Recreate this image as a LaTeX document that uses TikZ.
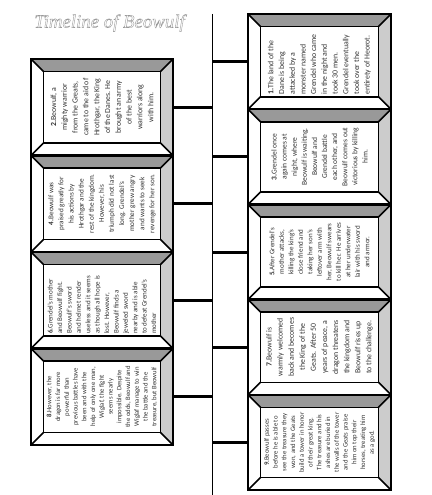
\documentclass[tikz,border=0pt]{standalone}
\usepackage{fontspec}
\setmainfont{Carlito}
\newfontfamily\titlefont{Liberation Serif}
\definecolor{bevdark}{HTML}{999999}
\definecolor{bevlight}{HTML}{CCCCCC}
\def\bev{12.5pt}
\newcommand\drawbevel[1]{%
  \fill[bevdark] (#1.north west) -- (#1.north east) -- ([shift={(-\bev,-\bev)}]#1.north east) -- ([shift={(\bev,-\bev)}]#1.north west) -- cycle;
  \fill[bevlight] (#1.north east) -- (#1.south east) -- ([shift={(-\bev,\bev)}]#1.south east) -- ([shift={(-\bev,-\bev)}]#1.north east) -- cycle;
  \draw[bevline] (#1.north west) -- ([shift={(\bev,-\bev)}]#1.north west);
  \draw[bevline] (#1.north east) -- ([shift={(-\bev,-\bev)}]#1.north east);
  \draw[bevline] (#1.south west) -- ([shift={(\bev,\bev)}]#1.south west);
  \draw[bevline] (#1.south east) -- ([shift={(-\bev,\bev)}]#1.south east);
  \draw[innerline] ([shift={(\bev,-\bev)}]#1.north west) rectangle ([shift={(-\bev,\bev)}]#1.south east);
  \draw[outerline] (#1.north west) rectangle (#1.south east);
}
\tikzset{
  boxshape/.style={rectangle, fill=white, draw=none, inner sep=0pt, outer sep=0pt, anchor=north west},
  rbox/.style={boxshape, minimum width=143pt, minimum height=95.2pt},
  lbox/.style={boxshape, minimum width=142pt, minimum height=96.5pt},
  bevline/.style={line width=1.6pt, black},
  innerline/.style={line width=1.6pt, black},
  outerline/.style={line width=2.4pt, black},
  conn/.style={line width=3pt, black},
  timeline/.style={line width=1.5pt, black},
  btext/.style={rotate=90, inner sep=0pt, text=black!80},
  ctext/.style={btext, align=center},
  ltext/.style={btext, align=left, anchor=west},
  titletext/.style={font=\titlefont\itshape\fontsize{18.8}{22}\selectfont},
}
\newcommand\fs[2]{\fontsize{#1}{#2}\selectfont}
\newcommand\outlined[1]{\special{pdf:literal 2 Tr 0.4 w 0.6 G}#1\special{pdf:literal 0 Tr}}
\begin{document}
\begin{tikzpicture}[x=1pt,y=-1pt]
\useasboundingbox (0,0) rectangle (431,495);
% title (outlined look)
\node[titletext, text=white] (title) at (109.5,23) {\outlined{Timeline of Beowulf}};
% timeline
\coordinate (tltop) at (212.5,14);
\coordinate (tlbot) at (212.5,495);
\draw[timeline] (tltop) -- (tlbot);
% right column boxes
\node[rbox] (b1) at (248,14) {};
\node[rbox] (b3) at (248,109.2) {};
\node[rbox] (b5) at (248,204.4) {};
\node[rbox] (b7) at (248,299.6) {};
\node[rbox] (b9) at (248,394.8) {};
% left column boxes
\node[lbox] (b2) at (31,59) {};
\node[lbox] (b4) at (31,155.5) {};
\node[lbox] (b6) at (31,252) {};
\node[lbox] (b8) at (31,348.5) {};
\foreach \b in {b1,b3,b5,b7,b9,b2,b4,b6,b8}{\drawbevel{\b}}
% connectors
\foreach \b in {b1,b3,b5,b7,b9}{\draw[conn] (\b.west) -- (\b.west -| tltop);}
\foreach \b in {b2,b4,b6,b8}{\draw[conn] (\b.east) -- (\b.east -| tltop);}
% texts
\node[ltext, font=\fs{7.8}{10.7}] (t1) at ([yshift=\bev+2pt]b1.south) {\textbf{1.}The land of the\\Dane is being\\attacked by a\\monster named\\Grendel who came\\in the night and\\took 30 men.\\Grendel eventually\\took over the\\entirety of Heorot.};
\node[ctext, font=\fs{7.8}{10.8}] (t2) at (b2.center) {\textbf{2.}Beowulf, a\\mighty warrior\\from the Greats,\\came to the aid of\\Hrothgar, the King\\of the Danes. He\\brought an army\\of the best\\warriors along\\with him.};
\node[ctext, font=\fs{7.5}{10.1}] (t3) at (b3.center) {\textbf{3.}Grendel once\\again comes at\\night, where\\Beowulf is waiting.\\Beowulf and\\Grendel battle\\each other, and\\Beowulf comes out\\victorious by killing\\him.};
\node[ctext, font=\fs{7.2}{10.1}] (t4) at (b4.center) {\textbf{4.}Beowulf was\\praised greatly for\\his actions by\\Hrothgar and the\\rest of the kingdom.\\However, his\\triumph did not last\\long. Grendel's\\mother grew angry\\and wants to seek\\revenge for her son.};
\node[ctext, font=\fs{7.0}{9.5}] (t5) at (b5.center) {\textbf{5.}After Grendel's\\mother attacks,\\killing the king's\\close friend and\\taking her son's\\leftover arm with\\her, Beowulf swears\\to kill her. He arrives\\at her underwater\\lair with his sword\\and armor.};
\node[ltext, font=\fs{7.0}{9.4}] (t6) at ([yshift=\bev+2pt]b6.south) {\textbf{6.}Grendel's mother\\and Beowulf fight.\\Beowulf's sword\\and helmet render\\useless and it seems\\as though all hope is\\lost. However,\\Beowulf finds a\\jeweled sword\\nearby and is able\\to defeat Grendel's\\mother};
\node[ctext, font=\fs{7.8}{11.1}] (t7) at (b7.center) {\textbf{7.}Beowulf is\\warmly welcomed\\back and becomes\\the King of the\\Geats. After 50\\years of peace, a\\dragon threatens\\the kingdom and\\Beowulf rises up\\to the challenge.};
\node[ctext, font=\fs{6.7}{8.75}] (t8) at (b8.center) {\textbf{8.}However, the\\dragon is far more\\powerful than\\previous battles have\\been and with the\\help of only one man,\\Wiglaf, the fight\\seems nearly\\impossible. Despite\\the odds, Beowulf and\\Wiglaf manage to win\\the battle and the\\treasure, but Beowulf};
\node[ctext, font=\fs{6.7}{8.75}] (t9) at (b9.center) {\textbf{9.}Beowulf passes\\before he is able to\\see the treasure they\\won, and the Geats\\build a tower in honor\\of their great king.\\The treasure and his\\ashes are buried in\\the walls of the tower\\and the Geats praise\\him on top their\\horses, treating him\\as a god.};
\end{tikzpicture}
\end{document}
